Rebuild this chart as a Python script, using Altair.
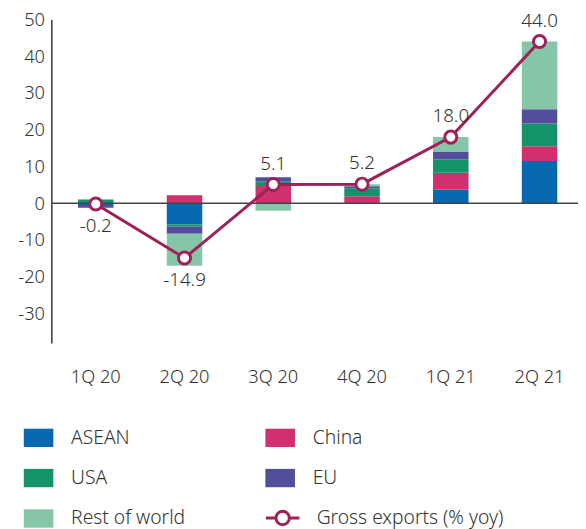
import altair as alt
import pandas as pd

quarters = ["1Q 20", "2Q 20", "3Q 20", "4Q 20", "1Q 21", "2Q 21"]
regions = ["ASEAN", "China", "USA", "EU", "Rest of world"]
legend_order = ["ASEAN", "USA", "Rest of world", "China", "EU"]
asean = [-0.5, -5.7, 0.0, 0.0, 3.7, 11.5]
china = [0.0, 2.2, 4.7, 1.9, 4.6, 4.0]
usa = [1.0, -0.6, 1.3, 2.2, 3.6, 6.2]
eu = [-0.7, -2.0, 1.1, 0.5, 2.2, 3.9]
rest = [0.0, -8.7, -2.0, 0.6, 3.9, 18.4]
gross = [-0.2, -14.9, 5.1, 5.2, 18.0, 44.0]
color_map = {"ASEAN": "#0868B0", "China": "#D1306E", "USA": "#14936A",
             "EU": "#524E9B", "Rest of world": "#85C6A9"}
line_color = "#A0205A"
y_ticks = [-30, -20, -10, 0, 10, 20, 30, 40, 50]

series = [asean, china, usa, eu, rest]
rows = []
for r_i, (name, vals) in enumerate(zip(regions, series)):
    for q, v in zip(quarters, vals):
        rows.append({"quarter": q, "region": name, "value": v, "ord": r_i})
bars_df = pd.DataFrame(rows)
line_df = pd.DataFrame({"quarter": quarters, "total": gross,
                        "series": ["Gross exports (% yoy)"] * len(quarters)})

FONT = "Noto Sans"
TXT = "#333333"

x_enc = alt.X("quarter:N", sort=quarters, title=None,
              scale=alt.Scale(paddingInner=0.6, paddingOuter=0.2667, align=0.5625),
              axis=alt.Axis(labelAngle=0, domain=False, ticks=False, labelPadding=25,
                            labelFont=FONT, labelFontSize=18.5, labelColor=TXT,
                            labelFontWeight=300))
y_scale = alt.Scale(domain=[-38, 50], nice=False, zero=False)

rect_path = "M-1,-0.62H1V0.62H-1Z"
line_path = "M-1,0H-0.4M0.4,0H1M0.4,0A0.4,0.4,0,1,1,-0.4,0A0.4,0.4,0,1,1,0.4,0Z"

bars = alt.Chart(bars_df).mark_bar(strokeWidth=0).encode(
    x=x_enc,
    y=alt.Y("value:Q", stack="zero", scale=y_scale, title=None,
            axis=alt.Axis(values=y_ticks, grid=False, ticks=False, domainColor="#000000",
                          domainWidth=1.2, labelFont=FONT, labelFontSize=18.5,
                          labelColor=TXT, labelPadding=7, labelFontWeight=300,
                          labelExpr="toString(datum.value)")),
    fill=alt.Fill("region:N",
                  scale=alt.Scale(domain=legend_order,
                                  range=[color_map[r] for r in legend_order]),
                  legend=alt.Legend(title=None, orient="none", legendX=-28, legendY=409,
                                    columns=2, columnPadding=81, rowPadding=16,
                                    symbolType=rect_path, symbolSize=900,
                                    symbolStrokeWidth=0, labelOffset=18,
                                    labelFont=FONT, labelFontSize=19.5, labelColor=TXT,
                                    labelFontWeight=300, padding=0)),
    order=alt.Order("ord:Q"),
)

zero = alt.Chart(pd.DataFrame({"v": [0]})).mark_rule(color="#444444", strokeWidth=1.5).encode(
    y=alt.Y("v:Q", scale=y_scale)
)

line = alt.Chart(line_df).mark_line(strokeWidth=3).encode(
    x=alt.X("quarter:N", sort=quarters),
    y=alt.Y("total:Q", scale=y_scale),
    stroke=alt.Stroke("series:N",
                      scale=alt.Scale(range=[line_color]),
                      legend=alt.Legend(title=None, orient="none", legendX=216, legendY=487,
                                        symbolType=line_path, symbolSize=1156,
                                        symbolStrokeWidth=3, symbolFillColor="#ffffff",
                                        labelOffset=16, labelFont=FONT, labelFontSize=19.5,
                                        labelColor=TXT, labelFontWeight=300, padding=0,
                                        labelLimit=400)),
)

points = alt.Chart(line_df).mark_point(filled=True, fill="white", stroke=line_color,
                                        strokeWidth=3, size=150, opacity=1).encode(
    x=alt.X("quarter:N", sort=quarters),
    y=alt.Y("total:Q", scale=y_scale),
)

label_expr = "replace(format(datum.total, '.1f'), '\u2212', '-')"

labels_pos = alt.Chart(line_df).transform_filter("datum.total >= 0").transform_calculate(
    lbl=label_expr).mark_text(
    dy=-21, font=FONT, fontSize=19, color=TXT, fontWeight=300).encode(
    x=alt.X("quarter:N", sort=quarters),
    y=alt.Y("total:Q", scale=y_scale),
    text=alt.Text("lbl:N"),
)
labels_neg = alt.Chart(line_df).transform_filter("datum.total < 0").transform_calculate(
    lbl=label_expr).mark_text(
    dy=22, font=FONT, fontSize=19, color=TXT, fontWeight=300).encode(
    x=alt.X("quarter:N", sort=quarters),
    y=alt.Y("total:Q", scale=y_scale),
    text=alt.Text("lbl:N"),
)

chart = alt.layer(bars, zero, line, points, labels_pos, labels_neg).resolve_scale(
    y="shared"
).properties(
    width=534, height=328,
    autosize=alt.AutoSizeParams(type="none"),
    padding={"left": 44, "top": 8, "right": 0, "bottom": 185},
).configure_view(stroke=None)

chart.save("out.html", embed_options={"renderer": "svg", "actions": False})
